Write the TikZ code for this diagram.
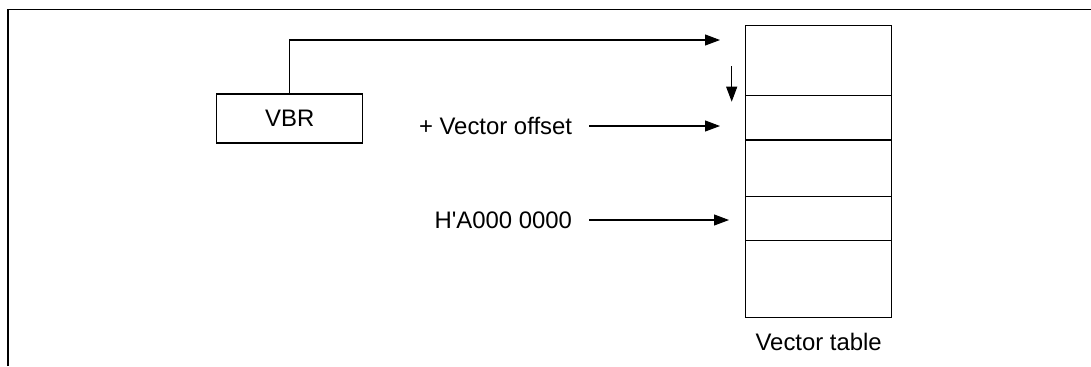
\documentclass[tikz,border=0pt]{standalone}
\usepackage{fontspec}
\setmainfont{Liberation Sans}
\usepackage{tikz}
\usetikzlibrary{arrows.meta, positioning}

\begin{document}
\begin{tikzpicture}[
  x=0.02cm, y=-0.02cm,
  line width=0.6pt,
  every node/.style={font=\fontsize{13.6}{16}\selectfont},
  regbox/.style={rectangle, draw, minimum width=2.92cm, minimum height=0.98cm, inner sep=0pt},
  cell/.style={rectangle, draw, minimum width=2.92cm, inner sep=0pt, outer sep=0pt, anchor=north},
  srclabel/.style={inner sep=0pt, outer xsep=0.34cm, anchor=east},
  arrow/.style={-{Triangle[length=0.3cm, width=0.22cm]}}
]
  \useasboundingbox (0,0) rectangle (1091,366);
  % frame
  \draw (8,366) -- (8,9.5) -- (1091,9.5);

  % VBR register
  \node[regbox] (vbr) at (289.7,118.5) {VBR};

  % vector table cells
  \node[cell, minimum height=1.40cm] (cell1) at (818.7,25.7) {};
  \node[cell, minimum height=0.886cm] (cell2) at (cell1.south) {};
  \node[cell, minimum height=1.134cm] (cell3) at (cell2.south) {};
  \node[cell, minimum height=0.886cm] (cell4) at (cell3.south) {};
  \node[cell, minimum height=1.534cm] (cell5) at (cell4.south) {};
  \node (tablename) at (818.7,341.7) {Vector table};

  % labels
  \node[srclabel] (offs) at (589,126) {+ Vector offset};
  \node[srclabel] (base) at (589,220) {H\textquotesingle A000 0000};

  % arrow ends
  \coordinate (topin) at (720,40);
  \coordinate (offin) at (720,126);
  \coordinate (basein) at (729,220);
  \coordinate (stepa) at (731.7,66);
  \coordinate (stepb) at (731.7,101.7);

  \draw[arrow] (vbr.north) |- (topin);
  \draw[arrow] (stepa) -- (stepb);
  \draw[arrow] (offs.east) -- (offin);
  \draw[arrow] (base.east) -- (basein);
\end{tikzpicture}
\end{document}
